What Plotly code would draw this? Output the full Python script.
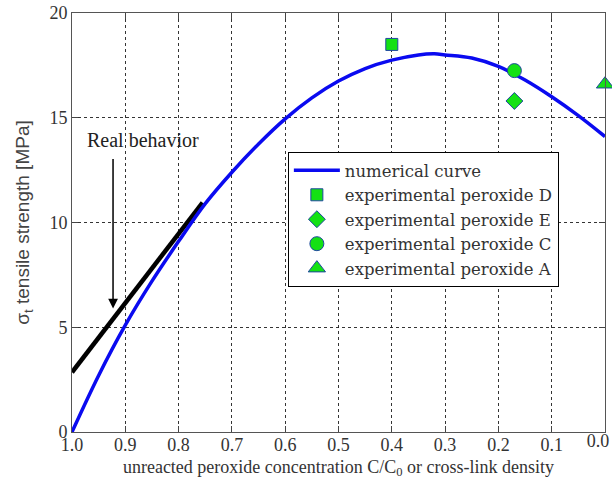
import plotly.graph_objects as go

# Numerical tensile-strength curve vs. unreacted peroxide concentration
curve_x = [1.0, 0.95, 0.9, 0.85, 0.8, 0.75, 0.7, 0.65, 0.6, 0.55, 0.5,
           0.45, 0.4, 0.35, 0.32, 0.3, 0.25, 0.2, 0.15, 0.1, 0.05, 0.0]
curve_y = [0.0, 2.7, 5.1, 7.2, 9.1, 10.9, 12.4, 13.75, 14.95, 15.95, 16.75,
           17.35, 17.75, 18.0, 18.05, 18.0, 17.85, 17.45, 16.8, 16.0, 15.1, 14.1]

# "Real behavior" straight segment
real_x = [1.0, 0.755]
real_y = [2.85, 10.95]

# Experimental points
exp_names = ["experimental peroxide D", "experimental peroxide E",
             "experimental peroxide C", "experimental peroxide A"]
exp_x = [0.4, 0.17, 0.17, 0.0]
exp_y = [18.5, 15.8, 17.25, 16.6]
exp_symbols = ["square", "diamond", "circle", "triangle-up"]
exp_sizes = [12, 13, 14, 15]

x_ticks = [1.0, 0.9, 0.8, 0.7, 0.6, 0.5, 0.4, 0.3, 0.2, 0.1, 0.0]
y_ticks = [0, 5, 10, 15, 20]

SERIF = "Liberation Serif, Times New Roman, serif"
WIDE_SERIF = "DejaVu Serif, serif"
SANS = "Liberation Sans, Arial, sans-serif"

x_ticktext = [f"{v:.1f}" for v in x_ticks]
# the last label sits at the page edge; it is drawn by an overlay axis
# so it can be nudged inward on its own
main_ticktext = x_ticktext[:-1] + [""]

fig = go.Figure()

# empty trace so the overlay axis is rendered
fig.add_trace(go.Scatter(x=[], y=[], xaxis="x2", yaxis="y",
                         showlegend=False, hoverinfo="skip"))

fig.add_trace(go.Scatter(
    x=real_x, y=real_y, mode="lines",
    line=dict(color="black", width=4.5),
    showlegend=False, hoverinfo="skip"))

fig.add_trace(go.Scatter(
    x=curve_x, y=curve_y, mode="lines", name="numerical curve",
    line=dict(color="rgb(10,10,240)", width=3.5, shape="spline")))

for name, xv, yv, sym, sz in zip(exp_names, exp_x, exp_y, exp_symbols, exp_sizes):
    fig.add_trace(go.Scatter(
        x=[xv], y=[yv], mode="markers", name=name, cliponaxis=False,
        marker=dict(symbol=sym, size=sz, color="rgb(20,225,20)",
                    line=dict(color="rgb(30,70,160)", width=1))))

grid = dict(showgrid=True, gridcolor="rgba(30,30,30,0.9)", gridwidth=1,
            griddash="3px,3px")
tickfont = dict(family=SERIF, size=18, color="#333")

fig.update_layout(
    xaxis=dict(
        range=[1.0, 0.0], tickvals=x_ticks, ticktext=main_ticktext,
        ticks="inside", ticklen=6, tickcolor="#444",
        showline=True, linecolor="#555", linewidth=1, mirror="ticks",
        zeroline=False, ticklabelstandoff=-4, automargin=False,
        tickfont=tickfont,
        title=dict(text="unreacted peroxide concentration C/C<sub>0</sub> or cross-link density",
                   font=dict(family=SERIF, size=18, color="#333"), standoff=6),
        **grid),
    xaxis2=dict(
        overlaying="x", anchor="y", side="bottom",
        range=[1.0, 0.0], tickvals=x_ticks[-1:], ticktext=x_ticktext[-1:],
        ticks="", showgrid=False, showline=False, zeroline=False,
        ticklabelstandoff=-4, ticklabelshift=7, ticklabeloverflow="allow",
        automargin=False, tickfont=tickfont),
    yaxis=dict(
        range=[0, 20], tickvals=y_ticks,
        ticks="inside", ticklen=6, tickcolor="#444",
        showline=True, linecolor="#555", linewidth=1, mirror="ticks",
        zeroline=False, automargin=False,
        tickfont=tickfont,
        title=dict(text="σ<sub>t</sub> tensile strength [MPa]",
                   font=dict(family=SANS, size=19, color="#444"), standoff=14),
        **grid),
)

fig.add_annotation(
    x=0.923, y=5.9, ax=0.923, ay=13.1, xref="x", yref="y", axref="x", ayref="y",
    showarrow=True, arrowhead=2, arrowsize=1.3, arrowwidth=1.5, arrowcolor="black",
    text="")
fig.add_annotation(
    x=0.866, y=13.95, xref="x", yref="y", text="Real behavior", showarrow=False,
    font=dict(family=SERIF, size=20, color="#222"))

fig.update_layout(
    width=612, height=489,
    margin=dict(l=72, r=7, t=13, b=57),
    paper_bgcolor="white", plot_bgcolor="white",
    legend=dict(x=0.405, y=0.668, xanchor="left", yanchor="top",
                bgcolor="white", bordercolor="black", borderwidth=1,
                font=dict(family=WIDE_SERIF, size=16.5, color="#333"),
                tracegroupgap=0, itemwidth=46),
)

fig.write_html("out.html")
